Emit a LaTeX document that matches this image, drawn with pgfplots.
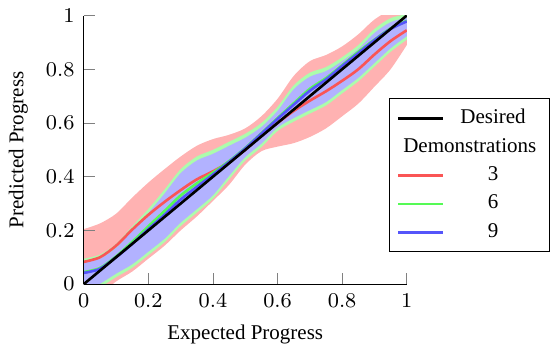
\documentclass[border=0pt]{standalone}
\usepackage{fontspec}
\setmainfont{Liberation Serif}
\usepackage{pgfplots}
\pgfplotsset{compat=1.18}
\usepgfplotslibrary{fillbetween}
\definecolor{redfill}{RGB}{255,178,178}
\definecolor{greenfill}{RGB}{172,252,172}
\definecolor{bluefill}{RGB}{178,178,255}
\definecolor{redline}{RGB}{250,85,85}
\definecolor{greenline}{RGB}{85,250,85}
\definecolor{blueline}{RGB}{85,85,250}
\begin{document}
\begin{tikzpicture}
\begin{axis}[
  scale only axis, width=123pt, height=102.3pt,
  xmin=0, xmax=1, ymin=0, ymax=1,
  axis x line*=bottom, axis y line*=left,
  axis on top,
  xtick={0,0.2,0.4,0.6,0.8,1}, ytick={0,0.2,0.4,0.6,0.8,1},
  tick label style={font=\footnotesize},
  label style={font=\footnotesize},
  xlabel={Expected Progress}, ylabel={Predicted Progress},
  legend style={at={(axis description cs:0.944,0.692)}, anchor=north west,
    font=\footnotesize, draw=black},
  legend cell align=center,
]
% red band (3 demonstrations)
\addplot[name path=ru, draw=none, smooth, forget plot] coordinates {
(0,0.205)(0.05,0.226)(0.1,0.262)(0.15,0.322)(0.2,0.378)(0.25,0.428)(0.3,0.475)
(0.35,0.515)(0.4,0.54)(0.45,0.556)(0.5,0.58)(0.55,0.625)(0.6,0.69)(0.65,0.775)
(0.7,0.83)(0.75,0.853)(0.8,0.885)(0.85,0.93)(0.9,0.985)(0.95,1.02)(1,1.035)};
\addplot[name path=rl, draw=none, smooth, forget plot] coordinates {
(0,-0.08)(0.05,-0.04)(0.1,0.01)(0.15,0.047)(0.2,0.095)(0.25,0.143)(0.3,0.2)
(0.35,0.252)(0.4,0.31)(0.45,0.37)(0.5,0.445)(0.55,0.495)(0.6,0.512)(0.65,0.525)
(0.7,0.548)(0.75,0.58)(0.8,0.625)(0.85,0.672)(0.9,0.735)(0.95,0.8)(1,0.89)};
\addplot[redfill, forget plot] fill between[of=ru and rl];
% green band (6 demonstrations)
\addplot[name path=gu, draw=none, smooth, forget plot] coordinates {
(0,0.095)(0.05,0.11)(0.1,0.15)(0.15,0.215)(0.2,0.28)(0.25,0.352)(0.3,0.428)
(0.35,0.475)(0.4,0.5)(0.45,0.53)(0.5,0.56)(0.55,0.6)(0.6,0.66)(0.65,0.74)
(0.7,0.787)(0.75,0.808)(0.8,0.845)(0.85,0.89)(0.9,0.95)(0.95,0.99)(1,1.005)};
\addplot[name path=gl, draw=none, smooth, forget plot] coordinates {
(0,-0.045)(0.05,-0.012)(0.1,0.026)(0.15,0.061)(0.2,0.108)(0.25,0.156)(0.3,0.216)
(0.35,0.266)(0.4,0.318)(0.45,0.39)(0.5,0.46)(0.55,0.51)(0.6,0.57)(0.65,0.605)
(0.7,0.635)(0.75,0.665)(0.8,0.71)(0.85,0.755)(0.9,0.81)(0.95,0.865)(1,0.91)};
\addplot[greenfill, forget plot] fill between[of=gu and gl];
% blue band (9 demonstrations)
\addplot[name path=bu, draw=none, smooth, forget plot] coordinates {
(0,0.08)(0.05,0.095)(0.1,0.135)(0.15,0.2)(0.2,0.265)(0.25,0.337)(0.3,0.413)
(0.35,0.46)(0.4,0.485)(0.45,0.515)(0.5,0.545)(0.55,0.585)(0.6,0.645)(0.65,0.725)
(0.7,0.772)(0.75,0.793)(0.8,0.83)(0.85,0.875)(0.9,0.935)(0.95,0.975)(1,0.992)};
\addplot[name path=bl, draw=none, smooth, forget plot] coordinates {
(0,-0.032)(0.05,0.001)(0.1,0.039)(0.15,0.074)(0.2,0.121)(0.25,0.169)(0.3,0.229)
(0.35,0.279)(0.4,0.331)(0.45,0.403)(0.5,0.473)(0.55,0.523)(0.6,0.583)(0.65,0.618)
(0.7,0.648)(0.75,0.678)(0.8,0.723)(0.85,0.768)(0.9,0.823)(0.95,0.878)(1,0.923)};
\addplot[bluefill, forget plot] fill between[of=bu and bl];
% mean lines
\addplot[redline, line width=1pt, smooth, forget plot] coordinates {
(0,0.083)(0.05,0.1)(0.1,0.143)(0.15,0.203)(0.2,0.258)(0.25,0.306)(0.3,0.35)
(0.35,0.39)(0.4,0.42)(0.45,0.455)(0.5,0.5)(0.55,0.555)(0.6,0.6)(0.65,0.645)
(0.7,0.683)(0.75,0.718)(0.8,0.757)(0.85,0.8)(0.9,0.855)(0.95,0.905)(1,0.945)};
\addplot[greenline, line width=1pt, smooth, forget plot] coordinates {
(0,0.045)(0.05,0.06)(0.1,0.103)(0.15,0.157)(0.2,0.215)(0.25,0.272)(0.3,0.33)
(0.35,0.375)(0.4,0.415)(0.45,0.458)(0.5,0.507)(0.55,0.562)(0.6,0.618)(0.65,0.673)
(0.7,0.727)(0.75,0.767)(0.8,0.815)(0.85,0.865)(0.9,0.91)(0.95,0.952)(1,0.98)};
\addplot[blueline, line width=1pt, smooth, forget plot] coordinates {
(0,0.042)(0.05,0.057)(0.1,0.1)(0.15,0.15)(0.2,0.205)(0.25,0.258)(0.3,0.315)
(0.35,0.362)(0.4,0.408)(0.45,0.455)(0.5,0.505)(0.55,0.56)(0.6,0.615)(0.65,0.668)
(0.7,0.72)(0.75,0.762)(0.8,0.812)(0.85,0.86)(0.9,0.908)(0.95,0.95)(1,0.978)};
% desired
\addplot[black, line width=1pt, forget plot] coordinates {(0,0)(1,1)};
% legend
\addlegendimage{black, line width=1pt}
\addlegendentry{Desired}
\addlegendimage{empty legend}
\addlegendentry{\hspace*{-17.7pt}Demonstrations}
\addlegendimage{redline, line width=1pt}
\addlegendentry{3}
\addlegendimage{greenline, line width=1pt}
\addlegendentry{6}
\addlegendimage{blueline, line width=1pt}
\addlegendentry{9}
\end{axis}
\end{tikzpicture}
\end{document}
